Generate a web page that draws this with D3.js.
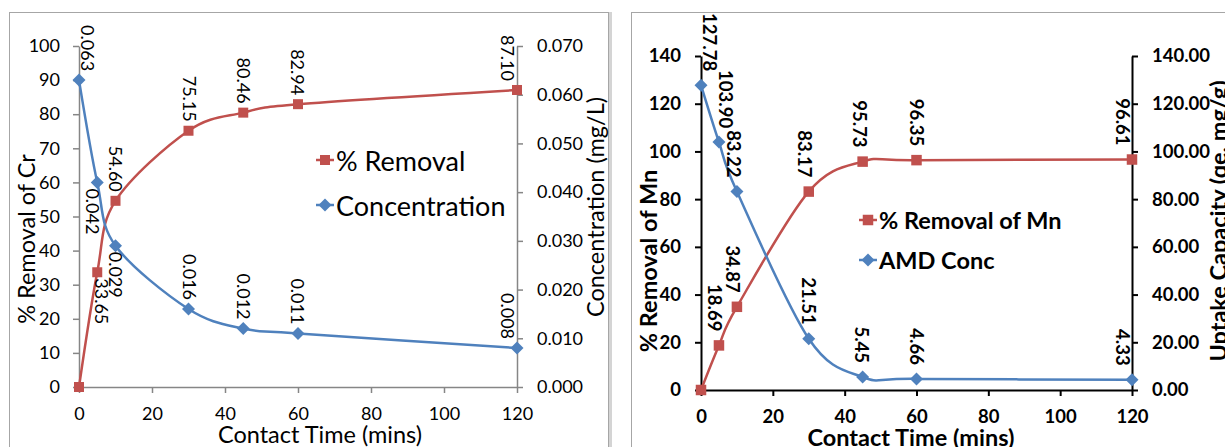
<!DOCTYPE html>
<html><head><meta charset="utf-8">
<script src="https://cdn.jsdelivr.net/npm/d3@7"></script>
<style>body{margin:0;background:#fff}svg{display:block}text{font-family:Lato,"Noto Sans",sans-serif;fill:#000}</style>
</head><body><svg id="c" width="1225" height="447"></svg>
<script>
// ---- data ----
const times = [0, 5, 10, 30, 45, 60, 120];
const xTicks = [0, 20, 40, 60, 80, 100, 120];
// Chart A (Cr)
const crRemoval = [0, 33.65, 54.60, 75.15, 80.46, 82.94, 87.10];
const crConc = [0.063, 0.042, 0.029, 0.016, 0.012, 0.011, 0.008];
const crLeftTicks = [0, 10, 20, 30, 40, 50, 60, 70, 80, 90, 100];
const crRightTicks = [0, 0.01, 0.02, 0.03, 0.04, 0.05, 0.06, 0.07];
// Chart B (Mn)
const mnRemoval = [0, 18.69, 34.87, 83.17, 95.73, 96.35, 96.61];
const mnConc = [127.78, 103.90, 83.22, 21.51, 5.45, 4.66, 4.33];
const mnLeftTicks = [0, 20, 40, 60, 80, 100, 120, 140];
const mnRightTicks = [0, 20, 40, 60, 80, 100, 120, 140];

const RED = "#C0504D", BLUE = "#4F81BD";
const svg = d3.select("#c");

// panel frames
svg.append("rect").attr("x",608).attr("y",12).attr("width",4).attr("height",460).attr("fill","#d4d4d4");
svg.append("rect").attr("x",9.5).attr("y",12.5).attr("width",599).attr("height",460).attr("fill","none").attr("stroke","#a6a6a6");
svg.append("rect").attr("x",631.5).attr("y",12.5).attr("width",700).attr("height",460).attr("fill","none").attr("stroke","#a6a6a6");

function diamond(g, x, y, r, c){ g.append("path").attr("d",`M${x},${y-r}L${x+r},${y}L${x},${y+r}L${x-r},${y}Z`).attr("fill",c); }
function square(g, x, y, s, c){ g.append("rect").attr("x",x-s/2).attr("y",y-s/2).attr("width",s).attr("height",s).attr("fill",c); }

function drawChart(o){
  const g = svg.append("g");
  const x = d3.scaleLinear().domain([0,120]).range(o.xr);
  const yL = d3.scaleLinear().domain(o.yLd).range(o.yr);
  const yR = d3.scaleLinear().domain(o.yRd).range(o.yr);
  const fw = o.bold ? "bold" : "normal";
  const style = (sel)=>{ sel.select(".domain").attr("stroke",o.axisColor).attr("stroke-width",o.axisW);
    sel.selectAll(".tick line").attr("stroke",o.axisColor).attr("stroke-width",o.axisW);
    sel.selectAll("text").attr("font-size",o.tickFs).attr("font-weight",fw).attr("font-family","Lato").attr("fill","#000"); };
  g.append("g").attr("transform",`translate(0,${o.yr[0]})`)
    .call(d3.axisBottom(x).tickValues(xTicks).tickSize(6).tickSizeOuter(0).tickPadding(o.xPad)).call(style);
  g.append("g").attr("transform",`translate(${o.xr[0]},0)`)
    .call(d3.axisLeft(yL).tickValues(o.leftTicks).tickSize(6).tickSizeOuter(0).tickPadding(o.yPad).tickFormat(d3.format("d"))).call(style);
  g.append("g").attr("transform",`translate(${o.xr[1]},0)`)
    .call(d3.axisRight(yR).tickValues(o.rightTicks).tickSize(6).tickSizeOuter(0).tickPadding(o.rPad).tickFormat(d3.format(o.rFmt))).call(style);
  g.selectAll(".domain").attr("fill","none");

  const curve = d3.curveCardinal.tension(0);
  const series = [
    {vals:o.rem, y:yL, c:RED, m:"sq", fmt:o.remFmt, pos:o.remPos, dx:o.remDx},
    {vals:o.conc, y:yR, c:BLUE, m:"di", fmt:o.concFmt, pos:o.concPos, dx:o.concDx}
  ];
  series.forEach(s=>{
    const pts = times.map((t,i)=>[x(t), s.y(s.vals[i])]);
    g.append("path").attr("d", d3.line().curve(curve)(pts)).attr("fill","none").attr("stroke",s.c).attr("stroke-width",2.5);
    pts.forEach(p=>{ if(s.m==="sq") square(g,p[0],p[1],o.sqS,s.c); else diamond(g,p[0],p[1],o.diR,s.c); });
  });
  series.forEach(s=>{
    times.forEach((t,i)=>{
      if (s.vals[i] === 0) return;
      const px = x(t) + s.dx[i], py = s.y(s.vals[i]);
      const hw = o.labFs*0.5;
      const cx = Math.max(o.xr[0]+hw, Math.min(o.xr[1]-hw, px));
      const below = s.pos[i] === "b";
      const ay = below ? py + o.gapB : py - o.gapA;
      g.append("text").attr("transform",`translate(${cx},${ay}) rotate(90)`)
        .attr("text-anchor", below ? "start" : "end").attr("dominant-baseline","central")
        .attr("font-size",o.labFs).attr("font-weight",fw).text(d3.format(s.fmt)(s.vals[i]));
    });
  });
  // legend
  const lg = g.append("g");
  [[o.legY[0],RED,"sq",o.legNames[0]],[o.legY[1],BLUE,"di",o.legNames[1]]].forEach(([ly,c,m,name])=>{
    lg.append("line").attr("x1",o.legX-9).attr("x2",o.legX+9).attr("y1",ly).attr("y2",ly).attr("stroke",c).attr("stroke-width",2.5);
    if(m==="sq") square(lg,o.legX,ly,o.sqS,c); else diamond(lg,o.legX,ly,o.diR,c);
    lg.append("text").attr("x",o.legX+11).attr("y",ly).attr("dominant-baseline","central")
      .attr("font-size",o.legFs).attr("font-weight",fw).text(name);
  });
  // titles
  g.append("text").attr("x",o.xTitle[0]).attr("y",o.xTitle[1]).attr("text-anchor","middle")
    .attr("font-size",o.titleFs).attr("font-weight",fw).text("Contact Time (mins)");
  g.append("text").attr("transform",`translate(${o.lTitle[0]},${o.lTitle[1]}) rotate(-90)`).attr("text-anchor","middle")
    .attr("font-size",o.titleFs).attr("font-weight",fw).text(o.lTitleTxt);
  g.append("text").attr("transform",`translate(${o.rTitle[0]},${o.rTitle[1]}) rotate(-90)`).attr("text-anchor","middle")
    .attr("font-size",o.titleFs).attr("font-weight",fw).text(o.rTitleTxt);
}

drawChart({
  xr:[79,517], yr:[387,46], yLd:[0,100], yRd:[0,0.07],
  leftTicks:crLeftTicks, rightTicks:crRightTicks, rFmt:".3f",
  rem:crRemoval, conc:crConc, remFmt:".2f", concFmt:".3f",
  remPos:["a","b","a","a","a","a","a"], concPos:["a","b","b","a","a","a","a"],
  remDx:[0,5,0,1,1,0,0], concDx:[0,-4,0,1,1,0,0],
  bold:false, axisColor:"#868686", axisW:1.5, tickFs:18, labFs:18, legFs:27, titleFs:23.5,
  xPad:14, yPad:13, rPad:14, gapA:9, gapB:6, sqS:10, diR:6.5,
  legX:325, legY:[160,205], legNames:["% Removal","Concentration"],
  xTitle:[320,443], lTitle:[35,239], rTitle:[604,207],
  lTitleTxt:"% Removal of Cr", rTitleTxt:"Concentration (mg/L)"
});
drawChart({
  xr:[701,1132], yr:[390,56], yLd:[0,140], yRd:[0,140],
  leftTicks:mnLeftTicks, rightTicks:mnRightTicks, rFmt:".2f",
  rem:mnRemoval, conc:mnConc, remFmt:".2f", concFmt:".2f",
  remPos:["a","a","a","a","a","a","a"], concPos:["a","a","a","a","a","a","a"],
  remDx:[0,-4,-4,-4,-3,0,0], concDx:[0,7,-3,0,-1,0,0],
  bold:true, axisColor:"#000", axisW:2, tickFs:18.5, labFs:18.5, legFs:23.5, titleFs:23.5,
  xPad:14, yPad:14, rPad:14, gapA:14, gapB:6, sqS:10.5, diR:6.5,
  legX:868, legY:[220,260], legNames:["% Removal of Mn","AMD Conc"],
  xTitle:[911,446], lTitle:[657,261], rTitle:[1227,221],
  lTitleTxt:"% Removal of Mn", rTitleTxt:"Uptake Capacity (qe, mg/g)"
});
</script></body></html>
